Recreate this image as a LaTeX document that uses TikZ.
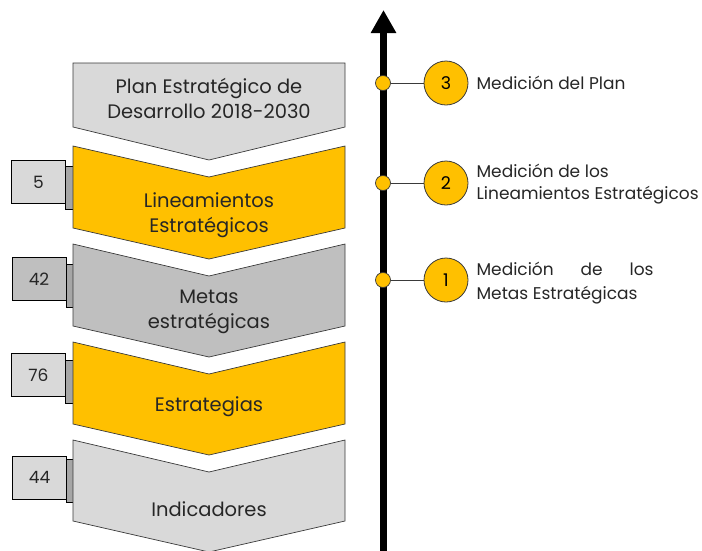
\documentclass[tikz,border=0pt]{standalone}
\usepackage{fontspec}
\setmainfont{Poppins}
\usetikzlibrary{arrows.meta,positioning}

\definecolor{oro}{HTML}{FFC000}
\definecolor{grisclaro}{HTML}{D9D9D9}
\definecolor{grismedio}{HTML}{BFBFBF}
\definecolor{grisoscuro}{HTML}{A6A6A6}
\definecolor{borde}{HTML}{3A3A3A}
\definecolor{tinta}{HTML}{262626}

\tikzset{
  galon/.style={fill=#1, draw=borde, line width=0.7pt},
  texto/.style={align=center, text=tinta, font=\fontsize{19.5}{25}\selectfont},
  caja/.style={draw=black, fill=#1, line width=0.9pt, minimum width=54pt, minimum height=43pt,
    inner sep=0pt, text=tinta, font=\fontsize{17}{20}\selectfont},
  pestana/.style={draw=black, fill=grisoscuro, line width=0.7pt, minimum width=8pt,
    minimum height=43pt, inner sep=0pt},
  hito/.style={circle, draw=borde, fill=oro, line width=0.7pt, minimum size=15pt, inner sep=0pt},
  circulo/.style={circle, draw=borde, fill=oro, line width=0.8pt, minimum size=44pt, inner sep=0pt,
    font=\fontsize{17.5}{20}\selectfont},
  conector/.style={draw=borde, line width=0.8pt},
  etiqueta/.style={inner sep=0pt, align=left, text=tinta, font=\fontsize{17}{22}\selectfont},
  eje/.style={line width=7pt, -{Triangle[width=24pt,length=23pt]}}
}

\begin{document}
\begin{tikzpicture}[x=1pt,y=-1pt]
    \useasboundingbox (0,0) rectangle (702,550);

    % pestanas
    \node[pestana] (p5) at (69,188) {};
    \node[pestana] (p42) at (70,285.5) {};
    \node[pestana] (p76) at (69,381.5) {};
    \node[pestana] (p44) at (70,481) {};

    % galones
    \filldraw[galon=grisclaro] (73,63) -- (345,63) -- (345,127) -- (209,160) -- (73,127) -- cycle;
    \filldraw[galon=oro] (73,146) -- (209,177) -- (345,146) -- (345,228) -- (209,259) -- (73,228) -- cycle;
    \filldraw[galon=grismedio] (73,244) -- (209,276) -- (345,244) -- (345,326) -- (209,357) -- (73,326) -- cycle;
    \filldraw[galon=oro] (73,342) -- (209,374) -- (345,342) -- (345,424) -- (209,455) -- (73,424) -- cycle;
    \filldraw[galon=grisclaro] (73,440) -- (209,472) -- (345,440) -- (345,521) -- (209,552) -- (73,521) -- cycle;

    \node[texto] (plan) at (209,99) {Plan Estratégico de\\Desarrollo 2018-2030};
    \node[texto] (lin) at (209,215) {Lineamientos\\Estratégicos};
    \node[texto] (met) at (209,312) {Metas\\estratégicas};
    \node[texto] (est) at (209,407) {Estrategias};
    \node[texto] (ind) at (209,509) {Indicadores};

    % cajas
    \node[caja=grisclaro] (n5) at (38.5,182) {5};
    \node[caja=grismedio] (n42) at (39,279) {42};
    \node[caja=grisclaro] (n76) at (38.5,375) {76};
    \node[caja=grisclaro] (n44) at (39.5,477.5) {44};

    % linea de tiempo
    \draw[eje] (383.5,552) -- (383.5,10);

    \node[hito] (d3) at (383,83) {};
    \node[hito] (d2) at (383,183) {};
    \node[hito] (d1) at (383,280) {};

    \node[circulo] (c3) at (446,83) {3};
    \node[circulo] (c2) at (446,183) {2};
    \node[circulo] (c1) at (446,280) {1};

    \draw[conector] (d3) -- (c3);
    \draw[conector] (d2) -- (c2);
    \draw[conector] (d1) -- (c1);

    \node[etiqueta, right=8pt of c3] (m3) {Medición del Plan};
    \node[etiqueta, right=8pt of c2, yshift=-1.5pt] (m2) {Medición de los\\Lineamientos Estratégicos};
    \node[etiqueta, right=8pt of c1, yshift=-3pt, font=\fontsize{17}{23.5}\selectfont] (m1) {\makebox[177pt][s]{Medición de los}\\Metas Estratégicas};
\end{tikzpicture}
\end{document}
